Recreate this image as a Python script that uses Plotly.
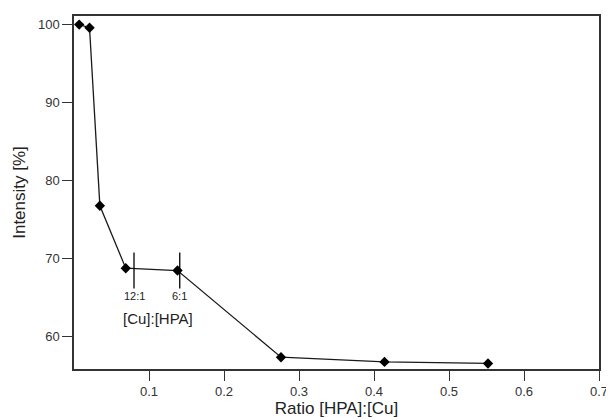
import plotly.graph_objects as go

ratio = [0.0069, 0.0207, 0.0345, 0.069, 0.138, 0.276, 0.414, 0.552]
intensity = [100.0, 99.6, 76.8, 68.8, 68.5, 57.4, 56.8, 56.6]

mark_x = [0.080, 0.141]
mark_labels = ["12:1", "6:1"]
mark_y0, mark_y1 = 66.2, 70.8
mark_label_y = 65.3
group_label = "[Cu]:[HPA]"
group_label_pos = (0.112, 62.4)

x_ticks = [0.1, 0.2, 0.3, 0.4, 0.5, 0.6, 0.7]
y_ticks = [60, 70, 80, 90, 100]

font = "Liberation Sans, Arial, sans-serif"

fig = go.Figure()
fig.add_trace(go.Scatter(
    x=ratio, y=intensity, mode="lines+markers",
    line=dict(color="#1a1a1a", width=1.3),
    marker=dict(symbol="diamond", size=8, color="black"),
    showlegend=False, hoverinfo="skip",
))

for xm, lab in zip(mark_x, mark_labels):
    fig.add_shape(type="line", x0=xm, x1=xm, y0=mark_y0, y1=mark_y1,
                  xref="x", yref="y", line=dict(color="black", width=1.3))
    fig.add_annotation(x=xm, y=mark_label_y, text=lab, showarrow=False,
                       xref="x", yref="y", font=dict(size=11, color="#222", family=font))

fig.add_annotation(x=group_label_pos[0], y=group_label_pos[1], text=group_label,
                   showarrow=False, xref="x", yref="y",
                   font=dict(size=15, color="#222", family=font))

axis_common = dict(
    showline=True, linecolor="#333", linewidth=1.5, mirror=True,
    ticks="outside", ticklen=10, tickcolor="#333", tickwidth=1.3,
    showgrid=False, zeroline=False,
    tickfont=dict(size=13, color="#333", family=font),
    ticklabeloverflow="allow",
)

fig.update_xaxes(range=[0, 0.7], tickvals=x_ticks,
                 ticktext=[str(t) for t in x_ticks],
                 title=dict(text="Ratio [HPA]:[Cu]", font=dict(size=17, color="#222", family=font), standoff=1),
                 **axis_common)
fig.update_yaxes(range=[55.89, 101.1], tickvals=y_ticks,
                 title=dict(text="Intensity [%]", font=dict(size=17, color="#222", family=font), standoff=8),
                 **axis_common)

fig.update_layout(
    width=606, height=412,
    margin=dict(l=66, r=7, t=6, b=51),
    plot_bgcolor="white", paper_bgcolor="white",
    font=dict(family=font),
)

fig.write_html("out.html")
